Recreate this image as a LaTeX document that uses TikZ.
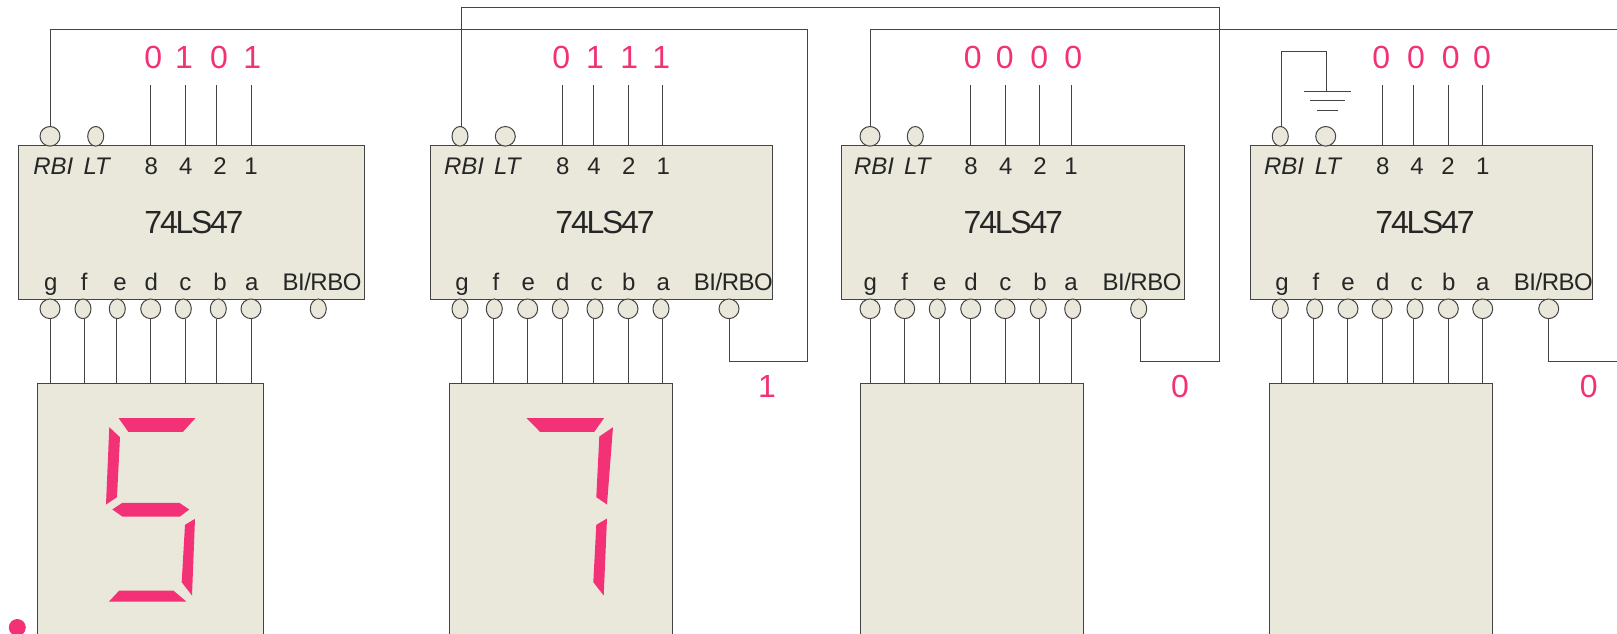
\documentclass[tikz,border=0pt]{standalone}
\usepackage{fontspec}
\usetikzlibrary{shapes.geometric}
\setmainfont{Liberation Sans}
\definecolor{chipfill}{HTML}{EAE8DA}
\definecolor{wirecol}{HTML}{444444}
\definecolor{segred}{HTML}{F33176}
\definecolor{labelcol}{HTML}{262626}
\begin{document}
\begin{tikzpicture}[x=0.5pt,y=-0.5pt,line width=0.5pt]

    \tikzset{
      chipbox/.style={
        draw=wirecol,
        fill=chipfill,
        anchor=north west,
        inner sep=0pt,
        outer sep=0pt,
        minimum height=77pt,
      },
      dispbox/.style={
        draw=wirecol,
        fill=chipfill,
        anchor=north west,
        inner sep=0pt,
        outer sep=0pt,
        minimum height=200pt,
      },
      pinball/.style={
        draw=wirecol,
        fill=chipfill,
        ellipse,
        inner sep=0pt,
        outer sep=0pt,
        minimum height=9.8pt,
      },
      wire/.style={draw=wirecol},
      pinlabel/.style={text=labelcol,anchor=base,inner sep=0pt,font=\fontsize{12}{14}\selectfont},
      rbolabel/.style={pinlabel,font=\fontsize{12}{14}\selectfont\addfontfeature{LetterSpace=-2}},
      chipname/.style={text=labelcol,anchor=base,inner sep=0pt,font=\fontsize{16}{18}\selectfont\addfontfeature{LetterSpace=-7}},
      rednum/.style={text=segred,anchor=base,inner sep=0pt,font=\fontsize{16}{18}\selectfont},
      seg/.style={fill=segred},
    }
    \clip[use as bounding box] (0,0) rectangle (1617,633);

    % chips and displays
    \foreach \n/\cx/\cw/\dx/\dw/\tx in {1/18.5/172.75/37.5/113/194,2/430/171.35/449.3/111.5/605,3/841.7/171.3/860.7/111.5/1013.3,4/1250.3/171.2/1269.3/111.5/1425}{
      \node[chipbox,minimum width=\cw pt] (chip\n) at (\cx,145) {};
      \node[dispbox,minimum width=\dw pt] (disp\n) at (\dx,383.5) {};
      \node[chipname] (name\n) at (\tx,233.5) {74LS47};
    }

    % RBI and LT pins
    \foreach \n/\rx/\rw/\lx/\lw/\rt/\ltx in {1/50/10/95.7/8/53.3/96.7,2/460/8/505.3/10/464/507.3,3/870/10/915.3/8/874/917.3,4/1280.3/8/1325.7/10/1284/1328}{
      \node[pinball,minimum width=\rw pt] (rbi\n) at (\rx,136.3) {};
      \node[pinball,minimum width=\lw pt] (lt\n) at (\lx,136.3) {};
      \node[pinlabel] (rbilab\n) at (\rt,174.5) {\itshape RBI};
      \node[pinlabel] (ltlab\n) at (\ltx,174.5) {\itshape LT};
    }

    % inputs 8 4 2 1
    \foreach \n/\bit/\x/\lx/\rx/\val in {
      1/8/150.7/151.3/153.3/0,1/4/185.3/185.7/184/1,1/2/216.7/220/219/0,1/1/251/251/252.3/1,
      2/8/562.3/562.7/561.3/0,2/4/593.7/594/595/1,2/2/628.3/628.7/629.3/1,2/1/662.7/663.3/661.3/1,
      3/8/970.7/971/972.7/0,3/4/1005.3/1005.7/1004.7/0,3/2/1039.7/1040/1039.3/0,3/1/1071.3/1071/1073.3/0,
      4/8/1382/1382.7/1381.3/0,4/4/1413.3/1417/1416/0,4/2/1448/1448/1450.7/0,4/1/1482.7/1482.7/1482/0}{
      \node[rednum] (val\n\bit) at (\rx,68.7) {\val};
      \node[pinlabel] (inlab\n\bit) at (\lx,174) {\bit};
      \coordinate (in\n\bit) at (\x,85);
      \draw[wire] (in\n\bit) -- (in\n\bit |- chip\n.north);
    }

    % segment outputs
    \foreach \n/\s/\x/\w/\wx/\lx in {
      1/g/50/10/50.3/50.7,1/f/83/8/84.7/84.3,1/e/117.3/8/116/120,1/d/150.7/10/150.7/151.3,1/c/183.3/8/185.3/185.3,1/b/218.3/8/216.7/220,1/a/251/10/251/251.7,
      2/g/460/8/461.7/462,2/f/494.3/8/493/496,2/e/527.7/10/527.7/528.3,2/d/560.3/8/562.3/562.7,2/c/595/8/593.7/596.7,2/b/628/10/628.3/628.7,2/a/661/8/662.7/663.3,
      3/g/870/10/870/870.3,3/f/904.7/10/904.7/904.7,3/e/937.3/8/939/939.7,3/d/970.7/10/970.7/971,3/c/1005/10/1005.3/1005.3,3/b/1038.3/8/1039.7/1040,3/a/1072.7/8/1071.3/1071,
      4/g/1280.3/8/1281.7/1282,4/f/1314.7/8/1313/1316,4/e/1348/10/1347.7/1348,4/d/1382/10/1382/1382.7,4/c/1415/8/1413.7/1416.7,4/b/1448.3/10/1448/1448.7,4/a/1482.7/10/1482.7/1482.7}{
      \node[pinball,minimum width=\w pt] (out\n\s) at (\x,308.8) {};
      \node[pinlabel] (outlab\n\s) at (\lx,290.5) {\s};
      \coordinate (top\n\s) at (\wx,383.5);
      \draw[wire] (top\n\s |- out\n\s.south) -- (top\n\s);
    }

    % BI/RBO pins
    \foreach \n/\x/\w/\lx in {1/318.3/8/322,2/729/10/733.3,3/1138.7/8/1142,4/1548.7/10/1553.3}{
      \node[pinball,minimum width=\w pt] (rbo\n) at (\x,308.8) {};
      \node[rbolabel] (rbolab\n) at (\lx,290.5) {BI/RBO};
    }
    \node[rednum] (carry2) at (767,397.7) {1};
    \node[rednum] (carry3) at (1180,397.7) {0};
    \node[rednum] (carry4) at (1588.7,397.7) {0};

    % ripple blanking wires
    \draw[wire] (rbi1.north) |- (807,29) -- (807,361) -| (rbo2.south);
    \draw[wire] ([xshift=0.8pt]rbi2.north) |- (1219,7) -- (1219,361) -| ([xshift=0.8pt]rbo3.south);
    \draw[wire] (rbi3.north) |- (1617,29);
    \draw[wire] (rbo4.south) |- (1617,361);

    % ground
    \coordinate (gnd) at (1326,91);
    \draw[wire] ([xshift=0.7pt]rbi4.north) |- (1326,51) -- (gnd);
    \draw[wire] ([xshift=-11pt]gnd) -- ([xshift=12.5pt]gnd);
    \draw[wire] ([xshift=-8pt,yshift=-4.8pt]gnd) -- ([xshift=9.5pt,yshift=-4.8pt]gnd);
    \draw[wire] ([xshift=-4.5pt,yshift=-9.5pt]gnd) -- ([xshift=6pt,yshift=-9.5pt]gnd);

    % digit 5
    \fill[seg] (118.7,418.2) -- (195.3,418.2) -- (183,431.8) -- (128.3,431.8) -- cycle;
    \fill[seg] (109.3,427.2) -- (120,437.2) -- (117,497.2) -- (106,504.5) -- cycle;
    \fill[seg] (112.3,509.5) -- (122.3,502.8) -- (179.3,502.8) -- (189.3,509.5) -- (180,516.5) -- (122.3,516.5) -- cycle;
    \fill[seg] (185,524.8) -- (195,518.8) -- (192,595.5) -- (181.7,582.2) -- cycle;
    \fill[seg] (119.3,590.5) -- (173.3,590.5) -- (186.3,601.5) -- (109,601.5) -- cycle;
    % digit 7
    \fill[seg] (526.7,418.2) -- (604,418.2) -- (594.3,431.8) -- (540,431.8) -- cycle;
    \fill[seg] (599.3,436.5) -- (613,427.2) -- (607,504.5) -- (596.3,497.2) -- cycle;
    \fill[seg] (596.3,524.8) -- (607,518.5) -- (603.7,595.5) -- (593.3,582.2) -- cycle;
    % decimal point
    \fill[seg] (17.3,627.5) circle[radius=8.5];

\end{tikzpicture}
\end{document}
